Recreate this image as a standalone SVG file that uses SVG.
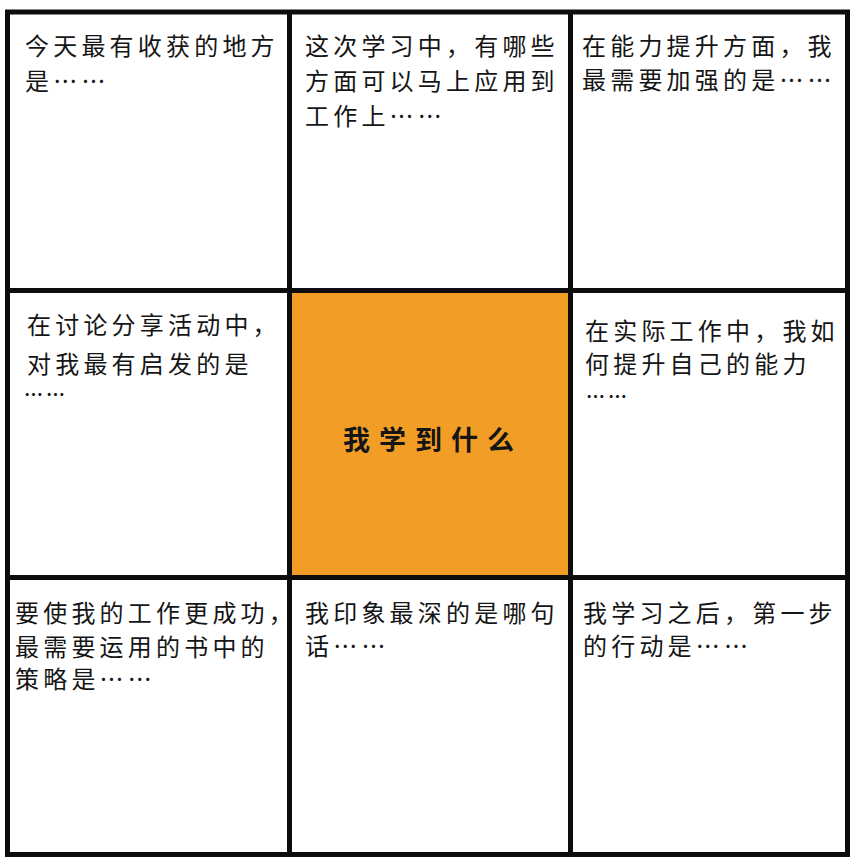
<svg xmlns="http://www.w3.org/2000/svg" width="858" height="864" viewBox="0 0 858 864">
<style>
.t{font-family:"Noto Sans CJK SC","Noto Sans CJK JP",sans-serif;font-size:24px;letter-spacing:4.2px;fill:#151515}
.d{font-family:"Noto Sans CJK SC","Noto Sans CJK JP",sans-serif;font-size:19px;letter-spacing:3px;fill:#151515;font-weight:bold}
.c{font-family:"Noto Sans CJK SC","Noto Sans CJK JP",sans-serif;font-size:27px;letter-spacing:9px;fill:#151515;font-weight:bold}
.ln{stroke:#0d0d0d;stroke-width:5;fill:none}
</style>
<rect width="858" height="864" fill="#ffffff"/>
<g id="center-cell">
<rect x="289.5" y="290.5" width="281" height="287" fill="#F29D26"/>
<text class="c" x="343" y="450">我学到什么</text>
</g>
<g id="grid">
<rect class="ln" x="7.5" y="12" width="840" height="842.5"/>
<line class="ln" x1="289.5" y1="12" x2="289.5" y2="854.5"/>
<line class="ln" x1="570.5" y1="12" x2="570.5" y2="854.5"/>
<line class="ln" x1="7.5" y1="290.5" x2="847.5" y2="290.5"/>
<line class="ln" x1="7.5" y1="577.5" x2="847.5" y2="577.5"/>
</g>
<g id="cell-top-left">
<text class="t" x="25" y="55">今天最有收获的地方</text>
<text class="t" x="25" y="90">是……</text>
</g>
<g id="cell-top-middle">
<text class="t" x="305" y="55">这次学习中，有哪些</text>
<text class="t" x="305" y="90">方面可以马上应用到</text>
<text class="t" x="305" y="125">工作上……</text>
</g>
<g id="cell-top-right">
<text class="t" x="582" y="55">在能力提升方面，我</text>
<text class="t" x="582" y="89">最需要加强的是……</text>
</g>
<g id="cell-middle-left">
<text class="t" x="27" y="334">在讨论分享活动中，</text>
<text class="t" x="27" y="373">对我最有启发的是</text>
<text class="d" x="24" y="402">……</text>
</g>
<g id="cell-middle-right">
<text class="t" x="585" y="340">在实际工作中，我如</text>
<text class="t" x="585" y="373">何提升自己的能力</text>
<text class="d" x="586" y="404">……</text>
</g>
<g id="cell-bottom-left">
<text class="t" x="15" y="622">要使我的工作更成功，</text>
<text class="t" x="15" y="656">最需要运用的书中的</text>
<text class="t" x="15" y="688">策略是……</text>
</g>
<g id="cell-bottom-middle">
<text class="t" x="305" y="622">我印象最深的是哪句</text>
<text class="t" x="305" y="655">话……</text>
</g>
<g id="cell-bottom-right">
<text class="t" x="583" y="622">我学习之后，第一步</text>
<text class="t" x="583" y="655">的行动是……</text>
</g>
</svg>
